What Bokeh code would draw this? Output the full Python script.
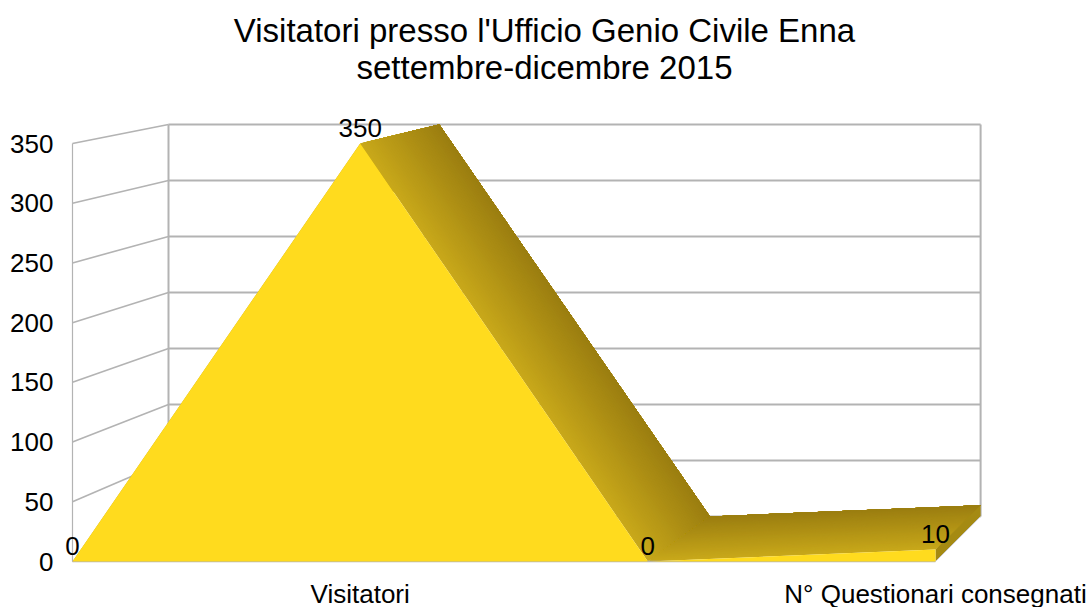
import numpy as np
from bokeh.plotting import figure
from bokeh.models import FixedTicker
from bokeh.core.properties import value
from bokeh.embed import file_html
from bokeh.resources import INLINE

# Data
positions = [0, 1, 2, 3]
series_values = [0, 350, 0, 10]
point_labels = ["0", "350", "0", "10"]
y_ticks = [0, 50, 100, 150, 200, 250, 300, 350]
x_tick_positions = [1, 3]
x_tick_labels = ["Visitatori", "N° Questionari consegnati"]
title_lines = ["Visitatori presso l'Ufficio Genio Civile Enna", "settembre-dicembre 2015"]

# Pixel layout of the front plane
PX_PER_X = 287.67
PX_PER_Y = 418 / 350
F_LEFT, F_RIGHT, F_TOP, F_BOTTOM = 60, 1028, 0, 565
ORIGIN_X, ORIGIN_Y = 72, 561
TITLE_CENTER_X = 544
TITLE_ROWS_Y = [30, 67]
FONT = "Liberation Sans"
GRID = "#b3b3b3"

# Depth projection (data units): back plane of the pseudo-3D chart
DX0, SX = (168 - 72) / PX_PER_X, 270.7 / PX_PER_X
DY0, SY = (561 - 516) / PX_PER_Y, 392 / 418


def proj(x, y, t=1.0):
    x, y = np.asarray(x, float), np.asarray(y, float)
    return x + t * (DX0 + (SX - 1) * x), y + t * (DY0 + (SY - 1) * y)


p = figure(
    frame_width=F_RIGHT - F_LEFT, frame_height=F_BOTTOM - F_TOP,
    output_backend="svg", toolbar_location=None,
    x_range=((F_LEFT - ORIGIN_X) / PX_PER_X, (F_RIGHT - ORIGIN_X) / PX_PER_X),
    y_range=((ORIGIN_Y - F_BOTTOM) / PX_PER_Y, (ORIGIN_Y - F_TOP) / PX_PER_Y),
    min_border_left=F_LEFT, min_border_right=1088 - F_RIGHT,
    min_border_top=0, min_border_bottom=0,
    outline_line_color=None, background_fill_color="white",
)
p.grid.visible = False

for ax in (p.yaxis[0], p.xaxis[0]):
    ax.axis_line_color = None
    ax.major_tick_line_color = None
    ax.minor_tick_line_color = None
    ax.major_tick_in = 0
    ax.major_tick_out = 0
    ax.minor_tick_in = 0
    ax.minor_tick_out = 0
    ax.major_label_text_font = FONT
    ax.major_label_text_font_size = "26px"
    ax.major_label_text_color = "black"

p.yaxis.ticker = FixedTicker(ticks=y_ticks)
p.yaxis.major_label_standoff = 7
p.xaxis.ticker = FixedTicker(ticks=x_tick_positions)
p.xaxis.major_label_overrides = dict(zip(x_tick_positions, x_tick_labels))
p.xaxis.major_label_standoff = 13

# Walls
xmax = positions[-1]
yticks = np.array(y_ticks, float)
bx0, by = proj(np.zeros_like(yticks), yticks)
bx1, _ = proj(np.full_like(yticks, xmax), yticks)
p.segment(np.zeros_like(yticks), yticks, bx0, by, line_color=GRID, line_width=1.6)
p.segment(bx0, by, bx1, by, line_color=GRID, line_width=2)
p.segment([0], [0], [0], [y_ticks[-1]], line_color=GRID, line_width=1.2)
p.segment(bx0[:1], by[:1], bx0[-1:], by[-1:], line_color=GRID, line_width=2)
p.segment(bx1[:1], by[:1], bx1[-1:], by[-1:], line_color=GRID, line_width=2)

# Side faces with depth gradient, painted back-to-front overlapping
x = np.array(positions, float)
y = np.array(series_values, float)
LIGHT = np.array([0xC8, 0xA8, 0x1A])
DARK = np.array([0x9A, 0x7D, 0x10])
N = 40


def hexc(c):
    return "#%02x%02x%02x" % tuple(int(round(v)) for v in c)


for i in range(len(x) - 1):
    for k in range(N):
        t = k / N
        c = LIGHT + (DARK - LIGHT) * t
        fx, fy = proj(x[i:i + 2], y[i:i + 2], t)
        gx, gy = proj(x[i:i + 2], y[i:i + 2], 1.0)
        p.patch(list(fx) + list(gx[::-1]), list(fy) + list(gy[::-1]),
                fill_color=hexc(c), line_color=None)

# Right end cap
ex0, ey0 = proj([xmax, xmax], [0, y[-1]], 0.0)
ex1, ey1 = proj([xmax, xmax], [0, y[-1]], 1.0)
p.patch(list(ex0) + list(ex1[::-1]), list(ey0) + list(ey1[::-1]), fill_color="#a58a12", line_color=None)

# Floor edges
p.segment([0], [0], [xmax], [0], line_color=GRID, line_width=1.4)
p.segment(ex0[:1], ey0[:1], ex1[:1], ey1[:1], line_color="#c8c8c8", line_width=1)

# Front face
p.patch(list(x) + [xmax], list(y) + [0], fill_color="#ffdb1e", line_color=None)

# Data labels
p.text(x, y, text=point_labels, text_font=value(FONT), text_font_size=value("26px"),
       text_color="black", text_align="center", text_baseline="alphabetic", y_offset=-16)

# Title rows
p.text([(TITLE_CENTER_X - ORIGIN_X) / PX_PER_X] * 2,
       [(ORIGIN_Y - r) / PX_PER_Y for r in TITLE_ROWS_Y],
       text=title_lines, text_font=value(FONT), text_font_size=value("33px"),
       text_color="black", text_align="center", text_baseline="middle")

open("out.html", "w").write(file_html(p, INLINE))
